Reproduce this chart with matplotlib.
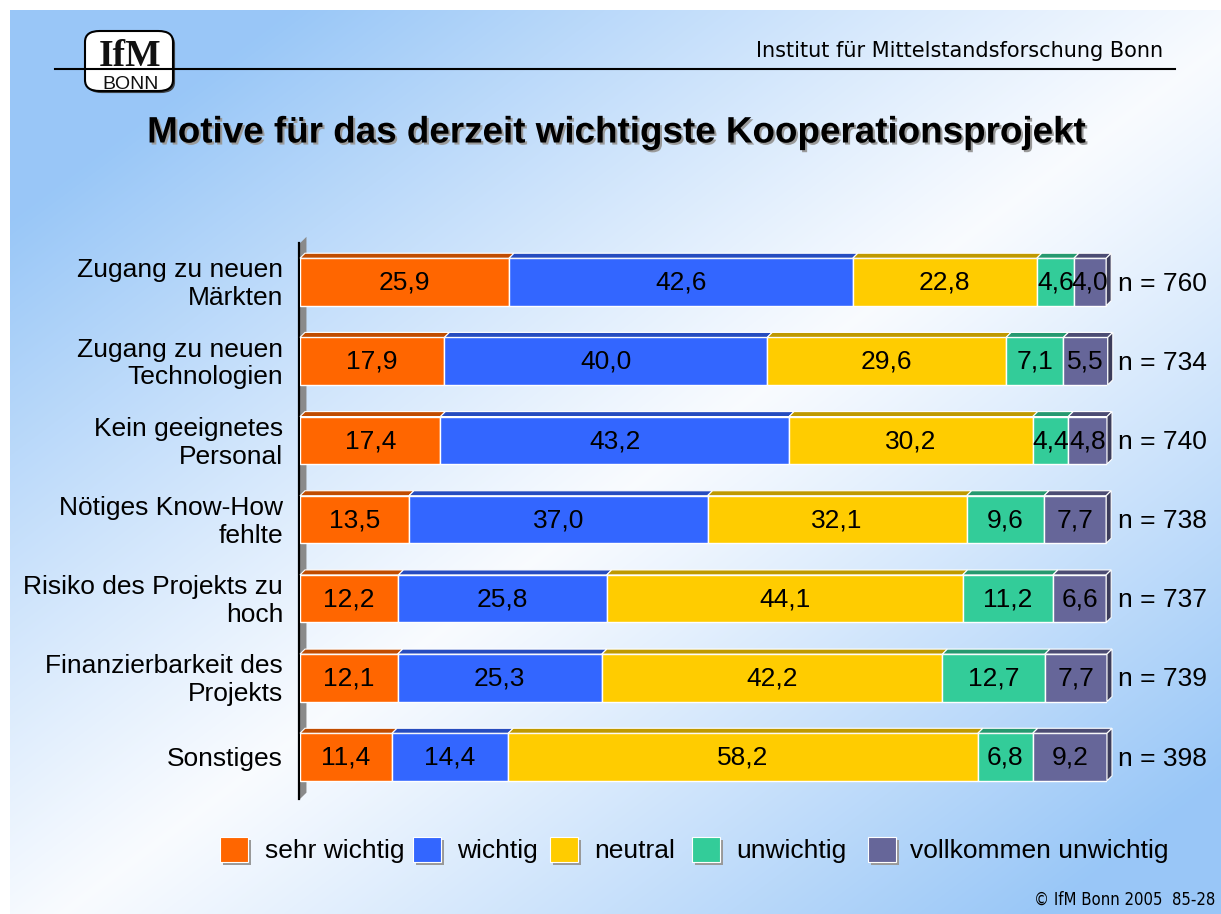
import numpy as np
import matplotlib
matplotlib.use("Agg")
import matplotlib.pyplot as plt
from matplotlib.patches import Polygon, Rectangle, FancyBboxPatch
import matplotlib.patheffects as pe

plt.rcParams['font.family'] = ['Liberation Sans', 'DejaVu Sans']

# data
categories = ["Zugang zu neuen\nMärkten", "Zugang zu neuen\nTechnologien",
              "Kein geeignetes\nPersonal", "Nötiges Know-How\nfehlte",
              "Risiko des Projekts zu\nhoch", "Finanzierbarkeit des\nProjekts",
              "Sonstiges"]
sehr_wichtig = [25.9, 17.9, 17.4, 13.5, 12.2, 12.1, 11.4]
wichtig = [42.6, 40.0, 43.2, 37.0, 25.8, 25.3, 14.4]
neutral = [22.8, 29.6, 30.2, 32.1, 44.1, 42.2, 58.2]
unwichtig = [4.6, 7.1, 4.4, 9.6, 11.2, 12.7, 6.8]
vollkommen = [4.0, 5.5, 4.8, 7.7, 6.6, 7.7, 9.2]
n_values = [760, 734, 740, 738, 737, 739, 398]
series_names = ["sehr wichtig", "wichtig", "neutral", "unwichtig", "vollkommen unwichtig"]

front = ['#FF6600', '#3366FF', '#FFCC00', '#33CC99', '#666699']
topc = ['#C04C00', '#264CBF', '#BF9900', '#26996F', '#4C4C73']
sidec = '#3C3C5A'

W, H = 1221, 914
fig = plt.figure(figsize=(W / 100, H / 100), dpi=100)
fig.patch.set_facecolor('white')


def fx(x):
    return x / W


def fy(y):
    return 1 - y / H


# background gradient (blue corners top-left / bottom-right), white rim top/left
bg = fig.add_axes([0, 0, 1, 1], zorder=-10)
X, Y = np.meshgrid(np.arange(W) / W, np.arange(H) / H)
t = np.clip(np.abs(X + Y - 1.05) * 1.25, 0, 1) ** 1.1
c0 = np.array([0.975, 0.985, 1.0])
c1 = np.array([0.60, 0.78, 0.97])
img = c0[None, None, :] * (1 - t[..., None]) + c1[None, None, :] * t[..., None]
img[:10, :, :] = 1.0
img[:, :10, :] = 1.0
bg.imshow(img, aspect='auto', extent=[0, 1, 1, 0], interpolation='nearest')
bg.set_xlim(0, 1)
bg.set_ylim(1, 0)
bg.axis('off')

# header
fig.add_artist(plt.Line2D([fx(55), fx(1175)], [fy(69), fy(69)], color='black', lw=1.5))
fig.text(fx(1163), fy(51), "Institut für Mittelstandsforschung Bonn", ha='right', va='center',
         fontsize=15, family='DejaVu Sans')
logo = FancyBboxPatch((fx(85), fy(91)), fx(88), 60 / H,
                      boxstyle="round,pad=0,rounding_size=0.012",
                      transform=fig.transFigure, facecolor='white', edgecolor='black', lw=1.5,
                      path_effects=[pe.SimplePatchShadow(offset=(1.5, -1.5), shadow_rgbFace='#333333', alpha=0.9),
                                    pe.Normal()])
fig.add_artist(logo)
fig.text(fx(130), fy(66), "IfM", ha='center', va='baseline', fontsize=27, family='Liberation Serif',
         fontweight='bold', color='#111111')
fig.text(fx(131), fy(89), "BONN", ha='center', va='baseline', fontsize=14, family='Liberation Sans',
         color='#111111')

# title with shadow
fig.text(fx(616), fy(133), "Motive für das derzeit wichtigste Kooperationsprojekt",
         ha='center', va='center', fontsize=26.5, fontweight='bold',
         path_effects=[pe.withSimplePatchShadow(offset=(1.5, -1.5), shadow_rgbFace='#9a9a9a', alpha=1)])

# bar axes
ax = fig.add_axes([fx(300), fy(800), fx(807), (800 - 237) / H])
ax.set_xlim(0, 100)
ax.set_ylim(6.543, -0.568)
ax.axis('off')
ax.patch.set_alpha(0)

dx, dy = 0.62, 0.063
h = 0.6
series = [sehr_wichtig, wichtig, neutral, unwichtig, vollkommen]

# 3d wall of the axis
ax.add_patch(Polygon([(0, -0.49), (0.8, -0.49 - 0.08), (0.8, 6.45), (0, 6.53)], closed=True,
                     facecolor='#8a8a8a', edgecolor='none', clip_on=False, zorder=1))
ax.plot([-0.15, -0.15], [-0.49, 6.53], color='black', lw=1.6, clip_on=False, zorder=2)

for i in range(len(categories)):
    left = 0
    yt = i - h / 2
    yb = i + h / 2
    for k, vals in enumerate(series):
        v = vals[i]
        ax.barh(i, v, left=left, height=h, color=front[k], edgecolor='white', lw=1, zorder=3)
        ax.add_patch(Polygon([(left, yt), (left + v, yt), (left + v + dx, yt - dy), (left + dx, yt - dy)],
                             closed=True, facecolor=topc[k], edgecolor='white', lw=0.8,
                             clip_on=False, zorder=3))
        ax.text(left + v / 2, i + 0.01, f"{v:.1f}".replace('.', ','), ha='center', va='center',
                fontsize=19, zorder=5)
        left += v
    ax.add_patch(Polygon([(left, yt), (left + dx, yt - dy), (left + dx, yb - dy), (left, yb)],
                         closed=True, facecolor=sidec, edgecolor='white', lw=0.8,
                         clip_on=False, zorder=3))
    ax.text(101.4, i + 0.02, f"n = {n_values[i]}", ha='left', va='center', fontsize=19, zorder=5)
    ax.text(-2.1, i + 0.03, categories[i], ha='right', va='center', fontsize=19,
            linespacing=1.2, zorder=5)

# legend
sq_x = [220, 413, 550, 692, 868]
tx_x = [265, 457, 594, 736, 910]
for k, name in enumerate(series_names):
    fig.add_artist(Rectangle((fx(sq_x[k] + 3), fy(865)), fx(28), 25 / H, transform=fig.transFigure,
                             facecolor='#999999', edgecolor='none'))
    fig.add_artist(Rectangle((fx(sq_x[k]), fy(862)), fx(28), 25 / H, transform=fig.transFigure,
                             facecolor=front[k], edgecolor='white', lw=0.8))
    fig.text(fx(tx_x[k]), fy(851), name, ha='left', va='center', fontsize=19)

# footer
fig.text(fx(1215), fy(900), "© IfM Bonn 2005  85-28", ha='right', va='center', fontsize=12,
         family='DejaVu Sans', fontstretch='condensed')

fig.savefig("out.png", dpi=100)
